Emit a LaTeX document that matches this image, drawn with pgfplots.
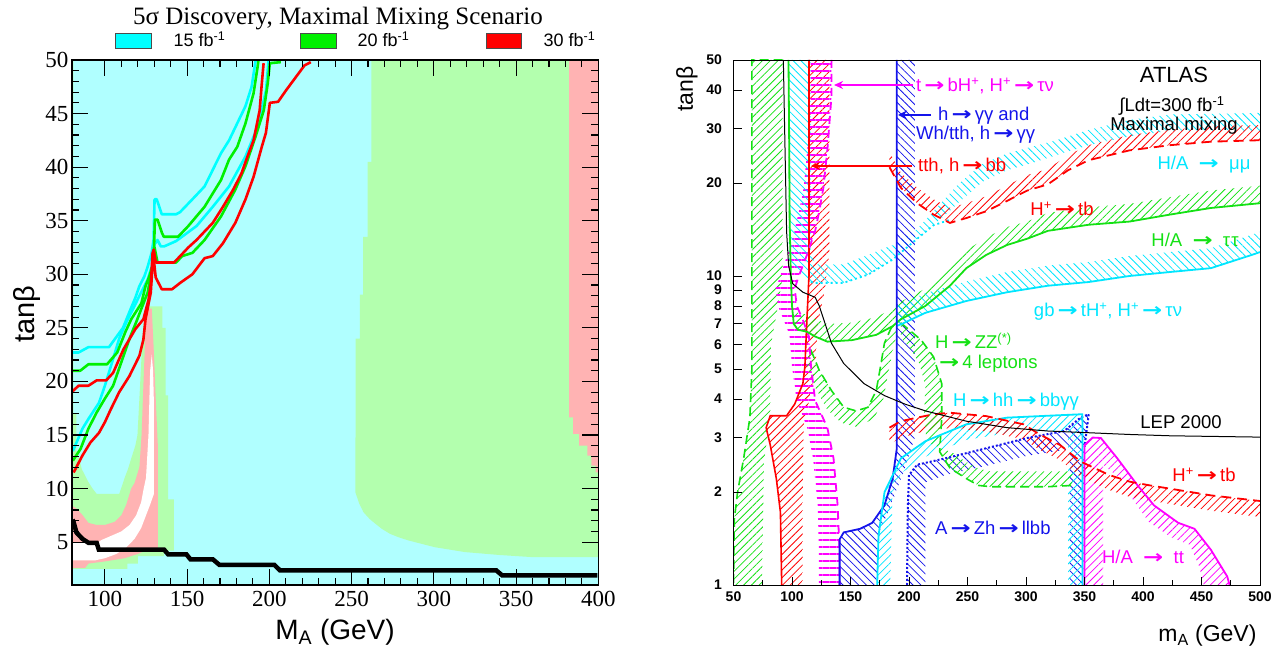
\documentclass[border=0pt]{standalone}
\usepackage{fontspec}
\setmainfont{Liberation Serif}
\newfontfamily\lsans{Liberation Sans}
\newfontfamily\djv{DejaVu Sans}
\usepackage{pgfplots}
\pgfplotsset{compat=1.18}
\usetikzlibrary{patterns.meta,arrows.meta}
\definecolor{lcyan}{RGB}{176,255,255}
\definecolor{lgreen}{RGB}{179,255,174}
\definecolor{lpink}{RGB}{255,179,179}
\definecolor{ccyan}{RGB}{0,255,255}
\definecolor{cgreen}{RGB}{0,240,0}
\definecolor{cred}{RGB}{255,0,0}
\definecolor{rcyan}{RGB}{0,230,255}
\definecolor{rgreen}{RGB}{20,225,20}
\definecolor{rblue}{RGB}{20,20,235}
\definecolor{rred}{RGB}{255,0,0}
\definecolor{rmag}{RGB}{255,0,255}
\newcommand{\ra}{{\djv\bfseries\scalebox{1.3}[1]{→}}}
\tikzset{
 hatchA/.style={draw=none,pattern={Lines[angle=45,distance=5.5pt,line width=0.8pt]}},
 hatchB/.style={draw=none,pattern={Lines[angle=-45,distance=5.5pt,line width=0.8pt]}},
 hatchH/.style={draw=none,pattern={Lines[angle=0,distance=7pt,line width=1.3pt]}},
}
\begin{document}
\begin{tikzpicture}[x=1pt,y=1pt]
\useasboundingbox (0,0) rectangle (1279,652);
% ================= LEFT PANEL =================
\begin{axis}[at={(72pt,67pt)}, anchor=south west, scale only axis,
 width=526.3pt, height=525pt,
 xmin=80, xmax=400, ymin=1, ymax=50,
 axis background/.style={fill=lcyan},
 axis on top,
 xtick={100,150,...,400}, ytick={5,10,...,50},
 minor x tick num=4, minor y tick num=4,
 tick align=inside, major tick length=16pt, minor tick length=7pt,
 axis line style={line width=1.3pt},
 every tick/.style={black,line width=1.1pt},
 /pgf/number format/assume math mode=true,
 tick label style={font=\fontsize{23}{23}\selectfont},
 xticklabel style={yshift=-3pt},
 ]
% right green region
\addplot[fill=lgreen,draw=none] coordinates {(262,50)(262,40.5)(259.7,40.5)(259.7,33.5)(257,33.5)(257,28.1)(255,28.1)(255,24)(252.5,24)(252.3,9.66)(254.7,8.57)(257.2,7.8)(260.9,7.17)(264.6,6.7)(268.4,6.24)(273.3,5.78)(278.3,5.47)(284.5,5.16)(300.5,4.53)(319,4.07)(340,3.8)(360,3.6)(400,3.6)(400,50)(262,50)};
% right pink strip
\addplot[fill=lpink,draw=none] coordinates {(382.2,50)(382.2,16.65)(384.7,16.65)(384.7,15.1)(388.4,15.1)(388.4,14.0)(393.4,14.0)(393.4,13.07)(395.8,13.07)(395.8,12.14)(398.3,12.14)(398.3,11.5)(400,11.5)(400,50)(382.2,50)};
% thin green strip at left edge
\addplot[fill=lgreen,draw=none] coordinates {(80,17)(80.9,17)(80.9,50)(80,50)(80,17)};
% green U
\addplot[fill=lgreen,draw=none] coordinates {(80,17)(82.7,17)(82.7,13.5)(84,13)(86,11.8)(88,11.2)(90,10.6)(92.5,10)(95,9.5)(108.7,9.5)(110.5,10.3)(112,11)(114,11.8)(116,12.8)(118.5,14)(119.8,15)(120.5,17)(121.5,20)(122.5,23)(123.5,25.5)(124.5,25.5)(124.5,27)(135,27)(135,25)(137,25)(137,18.7)(138.4,18.7)(138.4,9)(142,9)(142,4.2)(136,4.2)(136,3.7)(120,3.7)(120,3.0)(113.7,3.0)(113.7,2.5)(80,2.5)(80,17)};
% pink U
\addplot[fill=lpink,draw=none] coordinates {(80,8.4)(83,8.1)(86,7.6)(90,6.8)(95,6.6)(100,6.6)(106,6.9)(110,7.5)(113,8.5)(116,10)(118,10.5)(121,12)(122.3,15)(123.5,20)(124.5,24)(125.5,26.8)(128.5,26.8)(130,22)(131,18)(132.2,14)(132.2,4.4)(126,4.3)(120,3.9)(112,3.5)(100,3.2)(90,3.0)(88,2.6)(80,2.6)(80,8.4)};
% white U
\addplot[fill=white,draw=none] coordinates {(80,3.3)(94,3.3)(100,3.5)(107,3.9)(113,4.5)(118,5.3)(122,6.3)(125,7.5)(127.5,8.5)(129.8,9.5)(129.8,18)(129.3,21)(128.5,22.5)(127.5,21)(127,18)(126.5,15)(125,11)(123.6,10)(122,8.7)(119,7.5)(115,6.6)(110,6.0)(104,5.6)(98,5.2)(95,4.9)(80,4.9)(80,3.3)};
% LEP black line
\addplot[black,line width=4.5pt,mark=none] coordinates {(80.3,7.1)(81,6.86)(82.7,5.9)(86.4,5.3)(90,4.94)(95,4.94)(96.3,4.3)(136,4.3)(138.5,3.85)(149.6,3.85)(152,3.4)(165.6,3.4)(169.6,2.88)(203,2.88)(206.5,2.36)(338,2.36)(341.5,1.9)(399.5,1.9)};
% cyan lines
\addplot[ccyan,line width=2.6pt,mark=none,line join=round] coordinates {(80,22.7)(84,22.7)(90,23.2)(102.5,23.2)(111,25)(115.5,26.7)(118.5,27.8)(121,28.9)(124,29.8)(126,30.7)(128.4,32)(129.6,33.2)(130.2,37)(131.5,37)(134.6,35.6)(143.3,35.6)(145.7,35.8)(153.2,37)(160.6,38.2)(170.6,41.3)(175.5,42.5)(180.5,44.1)(185.5,45.7)(189.2,47.5)(191.7,50)};
\addplot[ccyan,line width=2.6pt,mark=none,line join=round] coordinates {(80.5,13.5)(86.4,15.6)(90,16.5)(96.4,18.0)(100,19.6)(105,22.1)(108.7,24)(113,25.5)(118.5,27.2)(122,28.3)(126,29.5)(129,31)(130.2,32.8)(132,33.2)(134,32.6)(136,32.6)(143.3,33.1)(155.7,34.5)(165.6,36.3)(175.5,38.2)(185.5,41)(193,43.8)(198,47.2)(199.5,50)};
% green lines
\addplot[cgreen,line width=2.6pt,mark=none,line join=round] coordinates {(80.5,21)(85,21)(90,21.6)(101.3,21.6)(107.5,22.7)(112.4,24.6)(116,25.8)(122.2,27.3)(124.7,28.9)(127,29.8)(129.6,31.1)(130.4,35.1)(132,35.1)(134.6,33.9)(135.8,33.5)(144.5,33.5)(150.7,34.5)(160.6,36.3)(170.6,38.8)(175.5,40.7)(180.5,41.9)(185.5,44.1)(190.4,46.9)(192.9,49.4)(193.4,50)};
\addplot[cgreen,line width=2.6pt,mark=none,line join=round] coordinates {(80.5,12.6)(85.2,13.7)(90,15.6)(95,17.1)(100,18.4)(105,19.6)(110,21.8)(115,24)(119.7,25.8)(126,28.3)(128.9,30.7)(130.2,32.5)(132,31.1)(143.3,31.1)(147,31.7)(153.2,32)(160.6,33.2)(170.6,35.4)(179.3,37.9)(185.5,40.1)(191.7,42.9)(196.6,45.3)(199,47.8)(200.3,49.7)(207,49.8)};
% red lines
\addplot[cred,line width=2.6pt,mark=none,line join=round] coordinates {(80.5,19.1)(84,19.6)(90,19.6)(95,20.1)(100.8,20.1)(105,20.8)(111.3,23)(118.6,24.9)(123.4,25.8)(126.5,27.6)(128,29.2)(129,32)(129.7,32.3)(131,31.1)(142,31.1)(145.8,31.7)(150.7,32.5)(155.7,33.2)(165.6,34.8)(171.8,36.3)(178,37.9)(183,39.4)(186.7,41)(190.4,42.5)(194.1,45.3)(195.4,47.8)(196.5,49.7)};
\addplot[cred,line width=2.6pt,mark=none,line join=round] coordinates {(81,11.5)(86.4,13.1)(91.2,14.3)(96.4,15.2)(100,16.2)(103.6,17.4)(108.7,19)(114.9,20.5)(121,22.4)(123.4,23.9)(124.7,25.8)(127.9,28.3)(128.9,30.7)(129.3,32)(130.9,29.7)(134.6,28.6)(140.8,28.6)(145.8,29.2)(153.2,30)(160.6,31.5)(165.6,31.7)(171.8,32.9)(179.3,34.8)(185.5,37)(190.4,39.1)(195.4,41.9)(197.9,43.2)(200.3,46)(205.3,46.1)(210.3,47.2)(221.4,49.5)(225.2,49.8)};
\end{axis}
% left panel texts
\node[anchor=base,font=\fontsize{25}{25}\selectfont] at (338,627) {5σ Discovery, Maximal Mixing Scenario};
\draw[fill=ccyan,draw=black!70,line width=0.8pt] (115,604) rectangle (151,619);
\draw[fill=cgreen,draw=black!70,line width=0.8pt] (300,604) rectangle (336,619);
\draw[fill=cred,draw=black!70,line width=0.8pt] (486,604) rectangle (521,619);
\node[anchor=base west,font=\lsans\fontsize{18}{18}\selectfont] at (170,605) {15 fb\textsuperscript{-1}};
\node[anchor=base west,font=\lsans\fontsize{18}{18}\selectfont] at (354,605) {20 fb\textsuperscript{-1}};
\node[anchor=base west,font=\lsans\fontsize{18}{18}\selectfont] at (540,605) {30 fb\textsuperscript{-1}};
\node[rotate=90,font=\lsans\fontsize{29}{29}\selectfont] at (27,338) {tanβ};
\node[anchor=base,font=\lsans\fontsize{28}{28}\selectfont] at (335,12) {M\textsubscript{A} (GeV)};
% ================= RIGHT PANEL =================
\begin{axis}[at={(733.5pt,67pt)}, anchor=south west, scale only axis,
 width=526.5pt, height=525pt,
 xmin=50, xmax=500, ymin=1, ymax=50, ymode=log,
 axis on top,
 xtick={50,100,...,500}, minor x tick num=1,
 ytick={1,2,3,4,5,6,7,8,9,10,20,30,40,50},
 yticklabels={1,2,3,4,5,6,7,8,9,10,20,30,40,50},
 yminorticks=false,
 tick pos=left, tick align=inside, major tick length=8pt, minor tick length=5pt,
 axis line style={line width=0.9pt},
 every tick/.style={black,line width=0.8pt},
 /pgf/number format/assume math mode=true,
 tick label style={font=\lsans\bfseries\fontsize{14}{14}\selectfont},
 yticklabel style={xshift=-8pt},
 xticklabel style={yshift=-3pt},
 ]
% ---- hatched bands ----
\addplot[hatchA,pattern color=rgreen] coordinates {(65.7,50)(92,50)(92,10)(88,8)(82,6)(81.4,3.5)(76,2.5)(74.4,1)(50,1)(50.7,1.63)(53.5,2)(58.7,2.57)(64,3.48)(65.7,5)(65.7,50)};
\addplot[hatchA,pattern color=rred] coordinates {(114.5,50)(114.5,10)(112.8,7.3)(111,5.08)(109.3,4.49)(102.3,3.85)(95.4,3.53)(81.4,3.53)(77.9,3.23)(81.4,2.84)(86.6,2.21)(90.1,1.72)(91.2,1)(109,1)(109,1.6)(109.5,2.5)(110,3.3)(115,4)(120,5)(122,7)(128,9)(132,12)(132,50)(114.5,50)};
\addplot[hatchH,pattern color=rmag] coordinates {(133.7,50)(133.7,38)(130.2,25.5)(126.8,19.3)(123.3,16.2)(119.8,14.0)(112.8,11.7)(105.8,10.0)(102.3,9.1)(104.1,8.0)(109.3,7.2)(114.5,6.37)(116.3,5.08)(119.8,3.95)(130.2,3.23)(135.5,2.57)(139,1.81)(140.7,1.27)(140.7,1)(123,1)(123,1.27)(122,1.81)(118,2.57)(113,3.23)(104,3.95)(100,5.08)(98,6.37)(93,7.2)(88,8)(86,9.1)(90,10)(96,11.7)(102,14)(106,16.2)(110,19.3)(113,25.5)(116,38)(116,50)(133.7,50)};
\addplot[hatchB,pattern color=rcyan] coordinates {(97,50)(116,50)(116,12)(120,10.9)(144,10.9)(165,11.7)(186,12.6)(207,14.2)(221,16.2)(242,19.8)(263,23.1)(283.8,24.9)(305,26.2)(326,27.5)(353.6,29.7)(388.5,32.0)(423,33.3)(500,33.7)(500,29.5)(423,29.5)(388.5,28.3)(353.6,26.5)(326,24.6)(305,23.2)(283.8,22.0)(263,20.2)(242,17.2)(221,14.6)(207,13.2)(186,11.3)(165,10.1)(144,9.5)(120,9.5)(116,9.56)(105,10.5)(97,11)(97,50)};
\addplot[hatchB,pattern color=rblue] coordinates {(189.6,50)(189.6,2.77)(186,2.21)(179,1.81)(168.6,1.59)(158.2,1.52)(144.2,1.48)(140.7,1.405)(140.7,1)(172,1)(175,1.5)(183,1.75)(195,2.3)(205,3.0)(205,50)(189.6,50)};
\addplot[hatchB,pattern color=rblue] coordinates {(198.3,1)(199,1.8)(200,2.27)(207,2.45)(231,2.57)(266,2.77)(301,2.99)(332.6,3.15)(346.6,3.48)(353.6,3.57)(352,3.2)(350,2.8)(349,1)(337,1)(337,2.75)(301,2.62)(266,2.43)(231,2.27)(214,2.15)(214,1)(198.3,1)};
\addplot[hatchA,pattern color=rcyan] coordinates {(172.8,1)(173.9,1.44)(179.1,2.0)(193.1,2.57)(214,2.92)(248.9,3.31)(283.8,3.48)(318.7,3.53)(348,3.57)(348.3,3.3)(348.3,1)(336,1)(336,3.15)(318.7,3.15)(283.8,3.1)(248.9,2.95)(214,2.6)(193.1,2.3)(186,2.0)(185,1.44)(184,1)(172.8,1)};
\addplot[hatchA,pattern color=rmag] coordinates {(350,1)(350,2.84)(357,3.0)(364,2.99)(378,2.57)(395.4,2.1)(409.4,1.81)(430,1.59)(444,1.52)(458,1.30)(472,1.065)(474,1)(452,1)(448,1.15)(440,1.35)(425,1.42)(405,1.6)(393,1.85)(378,2.25)(366,2.45)(366,1)(350,1)};
\addplot[hatchA,pattern color=rred] coordinates {(183.3,3.23)(193,3.39)(207,3.48)(221,3.57)(235,3.61)(266,3.52)(298,3.31)(311.7,3.07)(329,2.84)(346.6,2.51)(371,2.27)(388.5,2.16)(406,2.10)(423,2.05)(458,1.95)(500,1.87)(500,1.66)(458,1.74)(423,1.83)(406,1.875)(388.5,1.93)(371,2.03)(346.6,2.24)(329,2.54)(311.7,2.74)(298,2.96)(266,3.14)(235,3.22)(221,3.19)(207,3.1)(193,3.0)(183.3,2.85)(183.3,3.23)};
\addplot[hatchA,pattern color=rred] coordinates {(183.3,22.5)(193,19.3)(207,17.2)(221,15.8)(235,14.85)(249,15.4)(266,16.2)(283.8,17.5)(301,18.9)(318.7,19.8)(336,22.0)(353.6,23.7)(388.5,25.5)(423,26.5)(458,27.2)(500,27.5)(500,30.8)(458,30.5)(423,29.7)(388.5,28.6)(353.6,26.5)(336,24.6)(318.7,22.2)(301,21.2)(283.8,19.6)(266,18.1)(249,17.2)(235,16.6)(221,17.7)(207,19.3)(193,21.6)(183.3,25.2)(183.3,22.5)};
\addplot[hatchA,pattern color=rgreen] coordinates {(101.5,7)(105,6.7)(112.8,6.6)(119.8,6.37)(130.2,6.13)(151.2,6.2)(172,6.45)(186,6.88)(193,7.24)(214,8.0)(235,9.3)(249,10.6)(266,11.7)(283.8,12.6)(301,13.2)(318.7,14.0)(353.6,14.65)(388.5,15.0)(423,15.8)(458,16.6)(500,17.2)(500,19.6)(458,18.9)(423,18.0)(388.5,17.1)(353.6,16.7)(318.7,16.0)(301,15.0)(283.8,14.4)(266,13.3)(249,12.1)(235,10.6)(214,9.1)(193,8.25)(186,7.84)(172,7.35)(151.2,7.07)(130.2,6.99)(119.8,7.26)(112.8,7.5)(105,7.6)(101.5,7.9)(101.5,7)};
\addplot[hatchB,pattern color=rcyan] coordinates {(189.6,6.9)(193,6.97)(214,7.6)(249,8.3)(283.8,8.86)(318.7,9.3)(353.6,9.56)(388.5,10.0)(423,10.3)(458,10.6)(493,11.7)(500,11.95)(500,13.9)(493,13.6)(458,12.3)(423,11.95)(388.5,11.6)(353.6,11.1)(318.7,10.8)(283.8,10.3)(249,9.6)(214,8.8)(193,8.1)(189.6,8.0)(189.6,6.9)};
\addplot[hatchA,pattern color=rgreen] coordinates {(116,5.78)(123.3,4.95)(133.7,4.26)(144.2,3.76)(154.7,3.66)(165,3.76)(172,4.26)(175.6,5.08)(179,6.06)(186,6.97)(190,6.6)(186,5.7)(182,4.8)(178,4.0)(170,3.45)(155,3.25)(142,3.35)(130,3.7)(120,4.35)(112,5.2)(116,5.78)};
\addplot[hatchA,pattern color=rgreen] coordinates {(193,7.05)(200,6.7)(210.5,6.2)(221,5.47)(228,4.48)(228,3.48)(226.2,2.7)(235,2.39)(249,2.21)(259.4,2.10)(269.8,2.08)(318.7,2.08)(339.6,2.10)(339.6,2.33)(318.7,2.33)(269.8,2.33)(259.4,2.38)(249,2.5)(240,2.65)(215,2.9)(213,3.6)(214,4.4)(209,5.2)(200,5.9)(193,6.3)(193,7.05)};
% ---- lines ----
\addplot[rgreen,line width=1.6pt,mark=none,dash pattern=on 9pt off 5pt] coordinates {(92,50)(65.7,50)(65.7,5)(64,3.48)(58.7,2.57)(53.5,2)(50.7,1.63)(50,1)};
\addplot[rgreen,line width=1.6pt,mark=none,dash pattern=on 9pt off 5pt] coordinates {(116,5.78)(123.3,4.95)(133.7,4.26)(144.2,3.76)(154.7,3.66)(165,3.76)(172,4.26)(175.6,5.08)(179,6.06)(186,6.97)};
\addplot[rgreen,line width=1.6pt,mark=none,dash pattern=on 9pt off 5pt] coordinates {(193,7.05)(200,6.7)(210.5,6.2)(221,5.47)(228,4.48)(228,3.48)(226.2,2.7)(235,2.39)(249,2.21)(259.4,2.10)(269.8,2.08)(318.7,2.08)(339.6,2.10)};
\addplot[rred,line width=1.6pt,mark=none] coordinates {(114.5,50)(114.5,10)(112.8,7.3)(111,5.08)(109.3,4.49)(102.3,3.85)(95.4,3.53)(81.4,3.53)(77.9,3.23)(81.4,2.84)(86.6,2.21)(90.1,1.72)(91.2,1)};
\addplot[rmag,line width=1.8pt,mark=none,dash pattern=on 8pt off 6pt] coordinates {(133.7,50)(133.7,38)(130.2,25.5)(126.8,19.3)(123.3,16.2)(119.8,14.0)(112.8,11.7)(105.8,10.0)(102.3,9.1)(104.1,8.0)(109.3,7.2)(114.5,6.37)(116.3,5.08)(119.8,3.95)(130.2,3.23)(135.5,2.57)(139,1.81)(140.7,1.27)(140.7,1)};
\addplot[rgreen,line width=1.8pt,mark=none] coordinates {(97,50)(97.5,30)(98,15)(99,10)(100,8)(101.5,7)(105,6.7)(112.8,6.6)(119.8,6.37)(130.2,6.13)(151.2,6.2)(172,6.45)(186,6.88)(193,7.24)(214,8.0)(235,9.3)(249,10.6)(266,11.7)(283.8,12.6)(301,13.2)(318.7,14.0)(353.6,14.65)(388.5,15.0)(423,15.8)(458,16.6)(500,17.2)};
\addplot[rcyan,line width=1.8pt,mark=none,dash pattern=on 2pt off 3pt] coordinates {(116,9.56)(120,9.5)(144,9.5)(165,10.1)(186,11.3)(207,13.2)(221,14.6)(235,15.2)};
\addplot[rcyan,line width=1.8pt,mark=none] coordinates {(189.6,6.9)(193,6.97)(214,7.6)(249,8.3)(283.8,8.86)(318.7,9.3)(353.6,9.56)(388.5,10.0)(423,10.3)(458,10.6)(493,11.7)(500,11.95)};
\addplot[rblue,line width=1.8pt,mark=none] coordinates {(189.6,50)(189.6,2.77)(186,2.21)(179,1.81)(168.6,1.59)(158.2,1.52)(144.2,1.48)(140.7,1.405)(140.7,1)};
\addplot[rblue,line width=2pt,mark=none,dash pattern=on 2pt off 2pt] coordinates {(198.3,1)(199,1.8)(200,2.27)(207,2.45)(231,2.57)(266,2.77)(301,2.99)(332.6,3.15)(346.6,3.48)(353.6,3.57)(352,3.2)(350,2.8)};
\addplot[rcyan,line width=1.8pt,mark=none] coordinates {(172.8,1)(173.9,1.44)(179.1,2.0)(193.1,2.57)(214,2.92)(248.9,3.31)(283.8,3.48)(318.7,3.53)(348,3.57)(348.3,3.3)(348.3,1)};
\addplot[rmag,line width=1.8pt,mark=none] coordinates {(350,1)(350,2.84)(357,3.0)(364,2.99)(378,2.57)(395.4,2.1)(409.4,1.81)(430,1.59)(444,1.52)(458,1.30)(472,1.065)(474,1)};
\addplot[rred,line width=1.8pt,mark=none,dash pattern=on 10pt off 6pt] coordinates {(183.3,3.23)(193,3.39)(207,3.48)(221,3.57)(235,3.61)(266,3.52)(298,3.31)(311.7,3.07)(329,2.84)(346.6,2.51)(371,2.27)(388.5,2.16)(406,2.10)(423,2.05)(458,1.95)(500,1.87)};
\addplot[rred,line width=1.8pt,mark=none,dash pattern=on 10pt off 6pt] coordinates {(183.3,22.5)(193,19.3)(207,17.2)(221,15.8)(235,14.85)(249,15.4)(266,16.2)(283.8,17.5)(301,18.9)(318.7,19.8)(336,22.0)(353.6,23.7)(388.5,25.5)(423,26.5)(458,27.2)(500,27.5)};
\addplot[black,line width=1pt,mark=none] coordinates {(92.6,50)(93.6,31.3)(95.4,13.9)(97.1,10.8)(100.6,9.44)(109.3,8.86)(119.8,8.53)(123.3,8.0)(128.5,6.97)(133.7,6.06)(144.2,5.21)(161.7,4.48)(179.1,4.10)(196.5,3.85)(214,3.66)(248.9,3.39)(283.8,3.23)(318.7,3.15)(353.6,3.11)(388.4,3.07)(423.3,3.04)(500,3.01)};
\end{axis}
% right panel texts
\node[rotate=90,font=\lsans\fontsize{23}{23}\selectfont] at (687,563) {tanβ};
\node[anchor=base east,font=\lsans\fontsize{23}{23}\selectfont] at (1260,10) {m\textsubscript{A} (GeV)};
\draw[rmag,line width=1.5pt,-{Stealth[length=9pt,width=8pt]}] (913,567) -- (834,567);
\draw[rblue,line width=1.8pt,-{Stealth[length=9pt,width=9pt]}] (931,537) -- (898,537);
\draw[rred,line width=1.5pt,-{Stealth[length=9pt,width=8pt]}] (912,486) -- (811,486);
\begin{scope}[every node/.style={font=\lsans\fontsize{18.5}{18.5}\selectfont,inner sep=0pt}]
\node[rmag,anchor=west] at (916,566) {t\,\ra\,bH\textsuperscript{+}, H\textsuperscript{+}\,\ra\,τν};
\node[rblue,anchor=west] at (938,536) {h\,\ra\,γγ and};
\node[rblue,anchor=west] at (916,517) {Wh/tth, h\,\ra\,γγ};
\node[rred,anchor=west] at (918,486) {tth, h\,\ra\,bb};
\node[black] at (1174,577) {\fontsize{22}{22}\selectfont ATLAS};
\node[black] at (1172,546) {∫Ldt=300 fb\textsuperscript{-1}};
\node[black] at (1174,526) {Maximal mixing};
\node[rcyan] at (1204,487) {H/A \ \ra\ \ μμ};
\node[rred] at (1062,443) {H\textsuperscript{+}\,\ra\,tb};
\node[rgreen] at (1195,412) {H/A \ \ra\ \ τ\kern1ptτ};
\node[rcyan] at (1108,340) {gb\,\ra\,tH\textsuperscript{+}, H\textsuperscript{+}\,\ra\,τν};
\node[rgreen,anchor=west] at (935,311) {H\,\ra\,ZZ\textsuperscript{(*)}};
\node[rgreen,anchor=west] at (939,288) {\ra\,4 leptons};
\node[rcyan,anchor=west] at (953,250) {H\,\ra\,hh\,\ra\,bbγγ};
\node[black] at (1181,230) {LEP 2000};
\node[rred] at (1204,177) {H\textsuperscript{+}\,\ra\,tb};
\node[rblue,anchor=west] at (935,124) {A\,\ra\,Zh\,\ra\,llbb};
\node[rmag] at (1143,95) {H/A \ \ra\ \ tt};
\end{scope}
\end{tikzpicture}
\end{document}
